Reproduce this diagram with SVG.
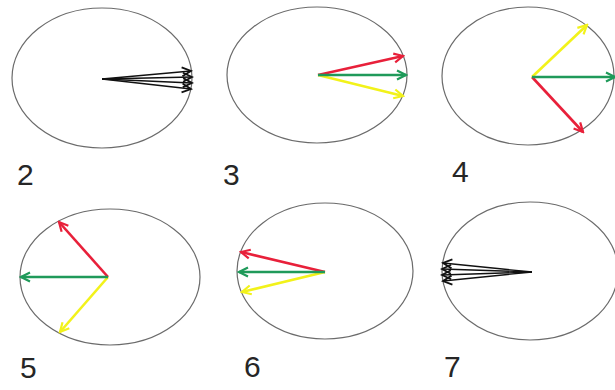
<svg xmlns="http://www.w3.org/2000/svg" width="615" height="390" viewBox="0 0 615 390">
<style>
.ell{fill:none;stroke:#6b6b6b;stroke-width:1.2}
.lbl{font-family:"Liberation Sans",Arial,sans-serif;font-size:30px;fill:#262626}
.k{stroke:#111;stroke-width:1.3;fill:none}
.r{stroke:#e8203a;stroke-width:2.6;fill:none}
.g{stroke:#1f9a5a;stroke-width:2.6;fill:none}
.y{stroke:#f2f21a;stroke-width:2.6;fill:none}
</style>
<defs>
<marker id="mk" markerUnits="userSpaceOnUse" markerWidth="12" markerHeight="12" refX="10" refY="5" orient="auto" viewBox="0 0 12 10"><path d="M1,0.5 L10,5 L1,9.5" fill="none" stroke="#111" stroke-width="1.8"/></marker>
<marker id="mr" markerUnits="userSpaceOnUse" markerWidth="12" markerHeight="12" refX="10" refY="5" orient="auto" viewBox="0 0 12 10"><path d="M1,0.5 L10,5 L1,9.5" fill="none" stroke="#e8203a" stroke-width="2.2"/></marker>
<marker id="mg" markerUnits="userSpaceOnUse" markerWidth="12" markerHeight="12" refX="10" refY="5" orient="auto" viewBox="0 0 12 10"><path d="M1,0.5 L10,5 L1,9.5" fill="none" stroke="#1f9a5a" stroke-width="2.2"/></marker>
<marker id="my" markerUnits="userSpaceOnUse" markerWidth="12" markerHeight="12" refX="10" refY="5" orient="auto" viewBox="0 0 12 10"><path d="M1,0.5 L10,5 L1,9.5" fill="none" stroke="#f2f21a" stroke-width="2.2"/></marker>
</defs>
<rect width="615" height="390" fill="#fff"/>
<g id="clock2">
<ellipse class="ell" cx="102" cy="78" rx="90" ry="70"/>
<text class="lbl" x="17" y="185">2</text>
</g>
<g id="clock3">
<ellipse class="ell" cx="317" cy="75" rx="90" ry="68"/>
<text class="lbl" x="223" y="185">3</text>
</g>
<g id="clock4">
<ellipse class="ell" cx="528" cy="76" rx="86" ry="69"/>
<text class="lbl" x="452" y="182">4</text>
</g>
<g id="clock5">
<ellipse class="ell" cx="110" cy="277" rx="90" ry="68"/>
<text class="lbl" x="20" y="378">5</text>
</g>
<g id="clock6">
<ellipse class="ell" cx="325" cy="271" rx="88" ry="68"/>
<text class="lbl" x="244" y="377">6</text>
</g>
<g id="clock7">
<ellipse class="ell" cx="530" cy="271" rx="88" ry="69"/>
<text class="lbl" x="444" y="377">7</text>
</g>
<g id="connectors">
<line class="k" x1="102" y1="79" x2="191" y2="71" marker-end="url(#mk)"/>
<line class="k" x1="102" y1="79" x2="192" y2="77" marker-end="url(#mk)"/>
<line class="k" x1="102" y1="79" x2="192" y2="83" marker-end="url(#mk)"/>
<line class="k" x1="102" y1="79" x2="191" y2="89" marker-end="url(#mk)"/>
<line class="y" x1="318" y1="75" x2="403" y2="96" marker-end="url(#my)"/>
<line class="r" x1="318" y1="75" x2="403" y2="56" marker-end="url(#mr)"/>
<line class="g" x1="318" y1="75" x2="406" y2="75" marker-end="url(#mg)"/>
<line class="y" x1="532" y1="77" x2="587" y2="25" marker-end="url(#my)"/>
<line class="r" x1="532" y1="77" x2="583" y2="132" marker-end="url(#mr)"/>
<line class="g" x1="532" y1="77" x2="615" y2="77" marker-end="url(#mg)"/>
<line class="y" x1="108" y1="277" x2="60" y2="332" marker-end="url(#my)"/>
<line class="r" x1="108" y1="277" x2="59" y2="222" marker-end="url(#mr)"/>
<line class="g" x1="108" y1="277" x2="21" y2="277" marker-end="url(#mg)"/>
<line class="y" x1="325" y1="272" x2="242" y2="292" marker-end="url(#my)"/>
<line class="r" x1="325" y1="272" x2="241" y2="252" marker-end="url(#mr)"/>
<line class="g" x1="325" y1="272" x2="239" y2="272" marker-end="url(#mg)"/>
<line class="k" x1="532" y1="272" x2="443" y2="263" marker-end="url(#mk)"/>
<line class="k" x1="532" y1="272" x2="442" y2="269" marker-end="url(#mk)"/>
<line class="k" x1="532" y1="272" x2="442" y2="275" marker-end="url(#mk)"/>
<line class="k" x1="532" y1="272" x2="443" y2="281" marker-end="url(#mk)"/>
</g>
</svg>
